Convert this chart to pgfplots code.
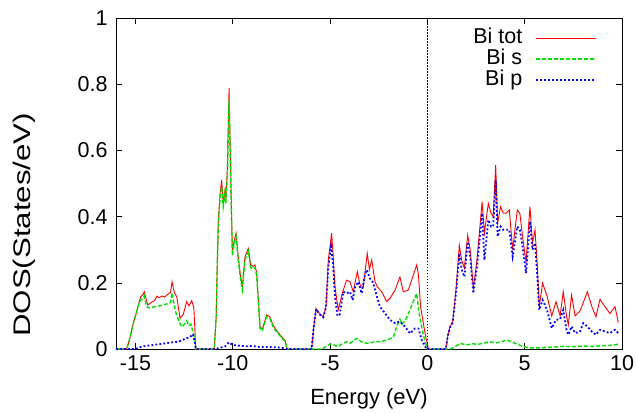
\documentclass[border=0pt]{standalone}
\usepackage{pgfplots}
\pgfplotsset{compat=1.18}
\usepackage{fontspec}
\setmainfont{Liberation Sans}
\definecolor{gpred}{RGB}{255,0,0}
\definecolor{gpgreen}{RGB}{0,225,0}
\definecolor{gpblue}{RGB}{0,0,255}
\newcommand{\lblfont}{\fontsize{21.5}{25}\selectfont}
\tikzset{
  totstyle/.style={gpred, line width=0.9pt, solid},
  sstyle/.style={gpgreen, line width=1.4pt, dash pattern=on 4pt off 2pt},
  pstyle/.style={gpblue, line width=1.8pt, dash pattern=on 1.8pt off 2.2pt},
}
\begin{document}
\begin{tikzpicture}
\begin{axis}[
  scale only axis, width=506pt, height=331pt,
  xmin=-16, xmax=10, ymin=0, ymax=1,
  xtick={-15,-10,-5,0,5,10},
  ytick={0,0.2,0.4,0.6,0.8,1},
  tick align=inside, major tick length=6pt,
  /pgf/number format/assume math mode=true,
  tick label style={font=\lblfont},
  xticklabel style={yshift=-3pt},
  yticklabel style={xshift=-5pt},
  xlabel={Energy (eV)},
  ylabel={DOS(States/eV)},
  xlabel style={font=\fontsize{22}{26}\selectfont, at={(axis description cs:0.5,-0.149)}, anchor=center},
  ylabel style={font=\fontsize{24}{28}\selectfont, at={(axis description cs:-0.182,0.375)}, anchor=center, xscale=1.3},
  axis line style={black, line width=0.7pt},
  every tick/.style={black, line width=0.6pt},
  legend plot pos=right,
  legend cell align=right,
  legend style={draw=none, fill=none, font=\lblfont, at={(axis description cs:0.957,0.978)}, anchor=north east,
    nodes={inner sep=1pt, text height=15pt, text depth=4pt},
    /tikz/every odd column/.append style={column sep=12pt}},
]
\addplot[totstyle, legend image code/.code={\draw[totstyle] (0pt,0pt) -- (60pt,0pt);}] coordinates {
(-16,0)(-15.45,0)(-15.3,0.03)(-15.1,0.08)(-14.95,0.11)(-14.8,0.145)(-14.73,0.158)(-14.6,0.165)(-14.55,0.173)(-14.45,0.15)(-14.37,0.133)(-14.2,0.14)(-14.0,0.148)(-13.9,0.16)(-13.8,0.155)(-13.6,0.16)(-13.5,0.157)(-13.35,0.165)(-13.2,0.17)(-13.12,0.203)(-13.0,0.17)(-12.88,0.158)(-12.71,0.093)(-12.54,0.105)(-12.37,0.143)(-12.25,0.13)(-12.11,0.146)(-12.0,0.125)(-11.9,0)
(-10.95,0)(-10.85,0.1)(-10.8,0.25)(-10.74,0.39)(-10.65,0.47)(-10.57,0.51)(-10.49,0.44)(-10.4,0.48)(-10.36,0.45)(-10.28,0.54)(-10.19,0.788)(-10.11,0.54)(-10.02,0.294)(-9.92,0.33)(-9.83,0.35)(-9.72,0.279)(-9.6,0.22)(-9.51,0.188)(-9.37,0.279)(-9.2,0.304)(-9.08,0.254)(-8.95,0.25)(-8.86,0.254)(-8.77,0.229)(-8.6,0.067)(-8.48,0.06)(-8.26,0.103)(-8.09,0.097)(-7.95,0.075)(-7.83,0.062)(-7.49,0.037)(-7.32,0.027)(-7.2,0)
(-6.0,0)(-5.95,0)(-5.85,0.06)(-5.72,0.123)(-5.55,0.108)(-5.35,0.098)(-5.21,0.128)(-5.09,0.269)(-4.92,0.35)(-4.85,0.29)(-4.75,0.188)(-4.58,0.118)(-4.45,0.15)(-4.35,0.173)(-4.15,0.208)(-3.98,0.203)(-3.81,0.173)(-3.6,0.234)(-3.46,0.193)(-3.29,0.188)(-3.09,0.289)(-2.98,0.24)(-2.86,0.269)(-2.69,0.203)(-2.57,0.188)(-2.35,0.173)(-2.09,0.143)(-1.92,0.153)(-1.66,0.178)(-1.41,0.218)(-1.24,0.173)(-0.98,0.178)(-0.72,0.224)(-0.55,0.254)(-0.46,0.224)(-0.35,0.128)(-0.12,0.047)(0.05,0)
(0.95,0)(1.05,0.04)(1.16,0.067)(1.30,0.083)(1.47,0.178)(1.64,0.314)(1.76,0.269)(1.90,0.244)(2.07,0.344)(2.2,0.30)(2.36,0.183)(2.53,0.26)(2.67,0.35)(2.81,0.445)(2.93,0.35)(3.13,0.44)(3.27,0.41)(3.38,0.40)(3.51,0.556)(3.61,0.38)(3.76,0.43)(3.9,0.41)(4.04,0.41)(4.21,0.42)(4.38,0.30)(4.62,0.42)(4.75,0.41)(4.89,0.34)(5.07,0.262)(5.27,0.43)(5.4,0.32)(5.53,0.36)(5.65,0.248)(5.75,0.128)(5.92,0.199)(6.15,0.16)(6.39,0.10)(6.61,0.143)(6.82,0.10)(6.98,0.173)(7.15,0.10)(7.24,0.073)(7.41,0.163)(7.59,0.10)(7.84,0.115)(8.01,0.14)(8.22,0.173)(8.44,0.13)(8.66,0.097)(8.87,0.15)(9.12,0.128)(9.38,0.107)(9.64,0.128)(9.81,0.08)
};
\addlegendentry{Bi tot}
\addplot[sstyle, legend image code/.code={\draw[sstyle] (0pt,0pt) -- (60pt,0pt);}] coordinates {
(-16,0)(-15.45,0)(-15.3,0.03)(-15.1,0.08)(-14.95,0.11)(-14.8,0.14)(-14.7,0.15)(-14.6,0.152)(-14.55,0.16)(-14.45,0.135)(-14.37,0.125)(-14.2,0.125)(-14.0,0.128)(-13.8,0.13)(-13.6,0.133)(-13.4,0.136)(-13.2,0.14)(-13.12,0.17)(-13.0,0.13)(-12.9,0.105)(-12.8,0.09)(-12.7,0.075)(-12.58,0.067)(-12.45,0.078)(-12.37,0.085)(-12.25,0.07)(-12.15,0.075)(-12.06,0.055)(-11.95,0.03)(-11.9,0)
(-10.95,0)(-10.85,0.1)(-10.8,0.24)(-10.74,0.38)(-10.65,0.46)(-10.57,0.49)(-10.49,0.43)(-10.4,0.47)(-10.36,0.44)(-10.28,0.52)(-10.19,0.75)(-10.11,0.52)(-10.02,0.282)(-9.92,0.32)(-9.83,0.34)(-9.72,0.27)(-9.6,0.21)(-9.51,0.18)(-9.37,0.27)(-9.2,0.296)(-9.08,0.246)(-8.95,0.242)(-8.86,0.246)(-8.77,0.222)(-8.6,0.062)(-8.48,0.055)(-8.26,0.098)(-8.09,0.092)(-7.95,0.07)(-7.83,0.058)(-7.49,0.034)(-7.32,0.024)(-7.2,0)
(-6.0,0)(-5.4,0)(-5.2,0.008)(-5.0,0.015)(-4.8,0.012)(-4.6,0.007)(-4.4,0.015)(-4.15,0.022)(-3.95,0.018)(-3.64,0.032)(-3.4,0.022)(-3.1,0.017)(-2.7,0.022)(-2.4,0.022)(-2.0,0.029)(-1.74,0.037)(-1.58,0.068)(-1.41,0.09)(-1.3,0.075)(-1.15,0.085)(-0.95,0.11)(-0.75,0.14)(-0.55,0.168)(-0.4,0.10)(-0.2,0.04)(0.0,0)
(1.2,0)(1.5,0.01)(1.7,0.017)(2.0,0.012)(2.3,0.016)(2.6,0.014)(2.9,0.018)(3.2,0.022)(3.5,0.018)(3.8,0.022)(4.1,0.027)(4.4,0.02)(4.6,0.015)(4.9,0.008)(5.1,0.005)(5.5,0.003)(6.0,0.004)(6.5,0.006)(7.0,0.008)(7.5,0.007)(8.0,0.009)(8.5,0.008)(9.0,0.01)(9.5,0.011)(9.81,0.015)
};
\addlegendentry{Bi s}
\addplot[pstyle, legend image code/.code={\draw[pstyle] (0pt,0pt) -- (60pt,0pt);}] coordinates {
(-16,0)(-15.0,0)(-14.8,0.005)(-14.5,0.009)(-14.0,0.013)(-13.5,0.017)(-13.0,0.021)(-12.8,0.022)(-12.6,0.027)(-12.4,0.032)(-12.2,0.036)(-12.05,0.045)(-11.95,0.02)(-11.9,0)
(-10.95,0)(-10.7,0.003)(-10.4,0.008)(-10.2,0.02)(-10.0,0.012)(-9.7,0.01)(-9.3,0.008)(-9.0,0.009)(-8.6,0.006)(-8.0,0.006)(-7.5,0.004)(-7.2,0)
(-6.0,0)(-5.95,0)(-5.85,0.06)(-5.72,0.12)(-5.55,0.105)(-5.35,0.096)(-5.21,0.125)(-5.09,0.25)(-4.95,0.31)(-4.85,0.26)(-4.75,0.16)(-4.62,0.10)(-4.5,0.104)(-4.32,0.173)(-4.15,0.168)(-3.98,0.173)(-3.84,0.148)(-3.71,0.188)(-3.54,0.203)(-3.38,0.168)(-3.21,0.224)(-3.12,0.239)(-2.95,0.213)(-2.78,0.2)(-2.64,0.168)(-2.44,0.128)(-2.18,0.108)(-1.92,0.088)(-1.66,0.078)(-1.41,0.083)(-1.16,0.068)(-0.89,0.047)(-0.64,0.062)(-0.46,0.062)(-0.29,0.027)(-0.04,0)
(0.95,0)(1.05,0.04)(1.16,0.065)(1.30,0.08)(1.47,0.17)(1.64,0.289)(1.76,0.24)(1.90,0.218)(2.07,0.324)(2.2,0.28)(2.36,0.168)(2.53,0.24)(2.67,0.32)(2.81,0.41)(2.93,0.269)(3.13,0.39)(3.27,0.37)(3.38,0.37)(3.51,0.51)(3.61,0.34)(3.76,0.37)(3.9,0.36)(4.04,0.36)(4.21,0.36)(4.38,0.28)(4.62,0.37)(4.75,0.36)(4.89,0.31)(5.07,0.229)(5.27,0.385)(5.4,0.30)(5.53,0.32)(5.65,0.22)(5.75,0.118)(5.92,0.148)(6.15,0.118)(6.39,0.063)(6.61,0.088)(6.82,0.09)(6.98,0.118)(7.15,0.058)(7.24,0.043)(7.41,0.068)(7.59,0.048)(7.84,0.053)(8.01,0.078)(8.22,0.068)(8.44,0.053)(8.66,0.043)(8.87,0.058)(9.12,0.053)(9.38,0.048)(9.64,0.058)(9.81,0.048)
};
\addlegendentry{Bi p}
\addplot[black, line width=0.6pt, dash pattern=on 1.5pt off 1.5pt, forget plot] coordinates {(0,0)(0,1)};
\end{axis}
\pgfresetboundingbox
\path[use as bounding box] ([shift={(-116pt,-63pt)}]current axis.south west) rectangle ([shift={(14pt,18pt)}]current axis.north east);
\end{tikzpicture}
\end{document}
